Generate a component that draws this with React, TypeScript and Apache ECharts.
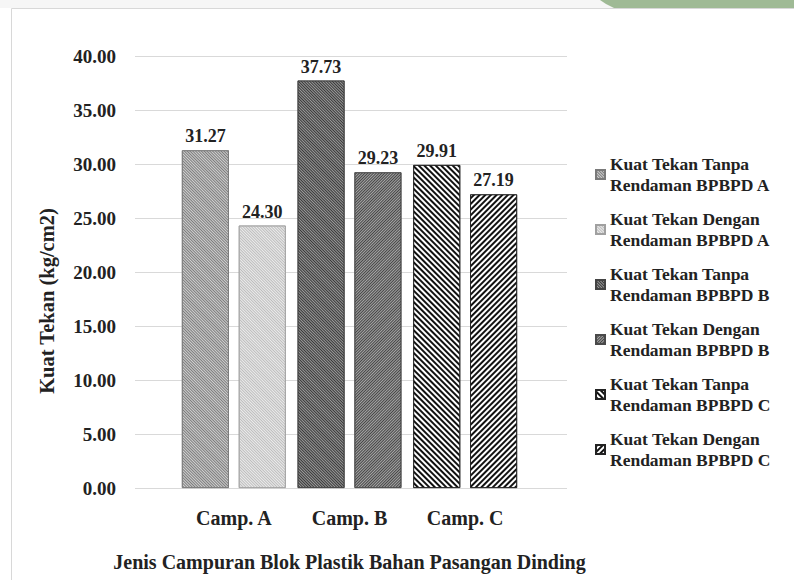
import React, { useEffect, useRef } from "react";
import * as echarts from "echarts";

const categories = ["Camp. A", "Camp. B", "Camp. C"];
const seriesNames = [
  "Kuat Tekan Tanpa\nRendaman BPBPD A",
  "Kuat Tekan Dengan\nRendaman BPBPD A",
  "Kuat Tekan Tanpa\nRendaman BPBPD B",
  "Kuat Tekan Dengan\nRendaman BPBPD B",
  "Kuat Tekan Tanpa\nRendaman BPBPD C",
  "Kuat Tekan Dengan\nRendaman BPBPD C",
];
const tanpaValues = [31.27, 37.73, 29.91];
const denganValues = [24.3, 29.23, 27.19];
const yTicks = { min: 0, max: 40, interval: 5 };
const xTitle = "Jenis Campuran Blok Plastik Bahan Pasangan Dinding";
const yTitle = "Kuat Tekan (kg/cm2)";

const FONT = "'Liberation Serif', 'Times New Roman', serif";

const decals: any[] = [
  { symbol: "rect", dashArrayX: [1, 0], dashArrayY: [1, 1], rotation: Math.PI / 4, color: "#7c7c7c", backgroundColor: "#d0d0d0" },
  { symbol: "rect", dashArrayX: [1, 0], dashArrayY: [1, 1], rotation: Math.PI / 4, color: "#bdbdbd", backgroundColor: "#ececec" },
  { symbol: "rect", dashArrayX: [1, 0], dashArrayY: [1, 1], rotation: Math.PI / 4, color: "#383838", backgroundColor: "#9a9a9a" },
  { symbol: "rect", dashArrayX: [1, 0], dashArrayY: [1, 1], rotation: -Math.PI / 4, color: "#454545", backgroundColor: "#a6a6a6" },
  { symbol: "rect", dashArrayX: [1, 0], dashArrayY: [2, 2], rotation: Math.PI / 4, color: "#111111", backgroundColor: "#ffffff" },
  { symbol: "rect", dashArrayX: [1, 0], dashArrayY: [2, 2], rotation: -Math.PI / 4, color: "#111111", backgroundColor: "#ffffff" },
];
const borderColors = ["#7a7a7a", "#a0a0a0", "#444444", "#4a4a4a", "#222222", "#222222"];

export default function App() {
  const ref = useRef<HTMLDivElement>(null);
  useEffect(() => {
    if (!ref.current) return;
    const chart = echarts.init(ref.current, undefined, { renderer: "svg" });
    const series = seriesNames.map((name, i) => {
      const c = Math.floor(i / 2);
      const kind = i % 2;
      const vals = kind === 0 ? tanpaValues : denganValues;
      return {
        type: "bar",
        name,
        xAxisIndex: 1,
        yAxisIndex: 1,
        stack: kind === 0 ? "tanpa" : "dengan",
        barWidth: 47,
        barGap: "21%",
        data: categories.map((_, j) => (j === c ? vals[j] : "-")),
        itemStyle: {
          color: decals[i].backgroundColor,
          decal: decals[i],
          borderColor: borderColors[i],
          borderWidth: 0.8,
        },
        label: {
          show: true,
          position: "top",
          distance: 5,
          formatter: (p: any) => Number(p.value).toFixed(2),
          fontFamily: FONT,
          fontWeight: "bold",
          fontSize: 18,
          color: "#222",
        },
      };
    });
    chart.setOption({
      animation: false,
      backgroundColor: "#ffffff",
      textStyle: { fontFamily: FONT },
      grid: [
        { left: 135, right: 227, top: 56, bottom: 92, outerBoundsMode: "none", containLabel: false },
        { left: 176, right: 271, top: 56, bottom: 92, outerBoundsMode: "none", containLabel: false },
      ],
      xAxis: [
        { gridIndex: 0, type: "category", data: categories, show: false },
        {
          gridIndex: 1,
          type: "category",
          data: categories,
          axisLine: { show: false },
          axisTick: { show: false },
          axisLabel: { fontFamily: FONT, fontWeight: "bold", fontSize: 20, color: "#222", margin: 20 },
          name: xTitle,
          nameLocation: "middle",
          nameGap: 64,
          nameTextStyle: { fontFamily: FONT, fontWeight: "bold", fontSize: 20, color: "#222" },
        },
      ],
      yAxis: [
        {
          gridIndex: 0,
          type: "value",
          min: yTicks.min,
          max: yTicks.max,
          interval: yTicks.interval,
          axisLine: { show: false },
          axisTick: { show: false },
          splitLine: { lineStyle: { color: "#d9d9d9", width: 1 } },
          axisLabel: {
            formatter: (v: number) => v.toFixed(2),
            fontFamily: FONT,
            fontWeight: "bold",
            fontSize: 19,
            color: "#222",
            margin: 19,
          },
        },
        { gridIndex: 1, type: "value", min: yTicks.min, max: yTicks.max, interval: yTicks.interval, show: false },
      ],
      legend: {
        orient: "vertical",
        left: 595,
        top: 143,
        padding: 0,
        itemWidth: 9,
        itemHeight: 9,
        itemGap: -8,
        icon: "rect",
        data: seriesNames,
        textStyle: {
          fontFamily: FONT,
          fontWeight: "bold",
          fontSize: 17.5,
          color: "#222",
          lineHeight: 21,
          padding: [21, 0, 0, 0],
        },
      },
      graphic: [
        { type: "rect", z: -10, shape: { x: 0, y: 0, width: 794, height: 8 }, style: { fill: "#f6f6f6" } },
        { type: "polygon", z: -9, shape: { points: [[600, 0], [794, 0], [794, 8], [614, 8], [606, 4]] }, style: { fill: "#9fba95" } },
        { type: "rect", z: -8, shape: { x: 11.5, y: 8.5, width: 800, height: 600 }, style: { fill: "none", stroke: "#d8d8d8", lineWidth: 1 } },
        {
          type: "text",
          x: 47,
          y: 301,
          rotation: Math.PI / 2,
          style: {
            text: yTitle,
            fontFamily: FONT,
            fontWeight: "bold",
            fontSize: 20.5,
            fill: "#222",
            align: "center",
            verticalAlign: "middle",
          },
        },
      ],
      series,
    });
    return () => chart.dispose();
  }, []);
  return <div ref={ref} style={{ position: "fixed", left: 0, top: 0, width: 794, height: 580 }} />;
}
